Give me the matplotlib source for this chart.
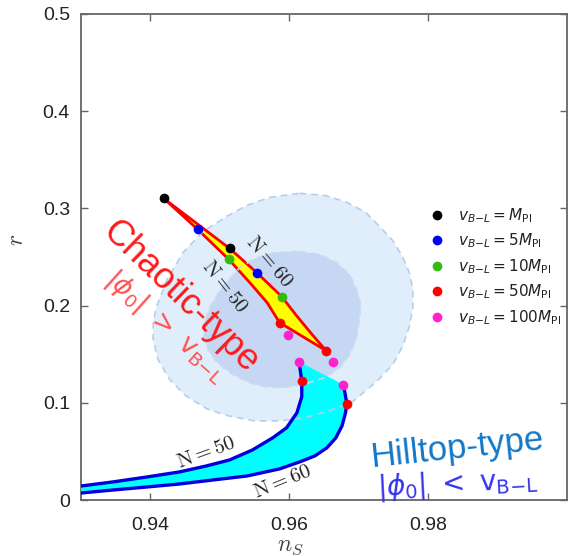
import matplotlib
matplotlib.use("Agg")
import matplotlib.pyplot as plt

# ---------------- data ----------------
# Planck-like contours (95% outer, 68% inner)
outer_ns = [0.9615, 0.9651, 0.9683, 0.9710, 0.9730, 0.9749, 0.9763, 0.9773, 0.9778, 0.9778,
            0.9773, 0.9763, 0.9749, 0.9727, 0.9691, 0.9658, 0.9622, 0.9586, 0.9550, 0.9512,
            0.9481, 0.9451, 0.9428, 0.9411, 0.9404, 0.9404, 0.9409, 0.9424, 0.9447, 0.9476,
            0.9510, 0.9539, 0.9572]
outer_r = [0.3155, 0.3134, 0.3062, 0.2959, 0.2814, 0.2670, 0.2505, 0.2340, 0.2165, 0.1979,
           0.1784, 0.1577, 0.1392, 0.1227, 0.1010, 0.0918, 0.0845, 0.0814, 0.0814, 0.0866,
           0.0938, 0.1072, 0.1237, 0.1443, 0.1649, 0.1835, 0.1990, 0.2268, 0.2546, 0.2763,
           0.2918, 0.3031, 0.3113]
inner_ns = [0.9615, 0.9644, 0.9668, 0.9687, 0.9697, 0.9703, 0.9701, 0.9697, 0.9687, 0.9673,
            0.9651, 0.9619, 0.9591, 0.9565, 0.9543, 0.9519, 0.9496, 0.9483, 0.9477, 0.9478,
            0.9486, 0.9503, 0.9529, 0.9550, 0.9579]
inner_r = [0.2557, 0.2526, 0.2443, 0.2320, 0.2165, 0.2010, 0.1856, 0.1670, 0.1495, 0.1361,
           0.1258, 0.1186, 0.1155, 0.1165, 0.1206, 0.1289, 0.1412, 0.1546, 0.1680, 0.1835,
           0.1990, 0.2186, 0.2392, 0.2485, 0.2546]

# Chaotic-type curves (v = M ... 50M)
chaotic_n50_ns = [0.9419, 0.9468, 0.9513, 0.9543, 0.9568, 0.9586]
chaotic_n50_r = [0.3103, 0.2784, 0.2474, 0.2237, 0.2031, 0.1825]
chaotic_n60_ns = [0.9514, 0.9553, 0.9589, 0.9610, 0.9632, 0.9653]
chaotic_n60_r = [0.2588, 0.2340, 0.2093, 0.1900, 0.1710, 0.1536]

# Hilltop-type curves (from far left up to v = 100M)
hilltop_n50_ns = [0.9300, 0.9346, 0.9395, 0.9442, 0.9481, 0.9514, 0.9547, 0.9576, 0.9596,
                  0.9611, 0.9618, 0.9618, 0.9614]
hilltop_n50_r = [0.0144, 0.0186, 0.0237, 0.0289, 0.0351, 0.0412, 0.0515, 0.0639, 0.0742,
                 0.0897, 0.1062, 0.1227, 0.1423]
hilltop_n60_ns = [0.9300, 0.9346, 0.9395, 0.9442, 0.9490, 0.9539, 0.9586, 0.9615, 0.9637,
                  0.9654, 0.9667, 0.9676, 0.9681, 0.9683, 0.9678]
hilltop_n60_r = [0.0072, 0.0103, 0.0134, 0.0165, 0.0206, 0.0247, 0.0320, 0.0392, 0.0454,
                 0.0536, 0.0639, 0.0763, 0.0897, 0.0990, 0.1186]

# Marked points for each v_{B-L}
pts_labels = [r"$v_{B{-}L} = M_{\rm Pl}$", r"$v_{B{-}L} = 5M_{\rm Pl}$",
              r"$v_{B{-}L} = 10M_{\rm Pl}$", r"$v_{B{-}L} = 50M_{\rm Pl}$",
              r"$v_{B{-}L} = 100M_{\rm Pl}$"]
pts_colors = ["#000000", "#0000ff", "#33bb11", "#ff0000", "#ff22cc"]
pts_ns = [[0.9419, 0.9514],
          [0.9468, 0.9553],
          [0.9513, 0.9589],
          [0.9586, 0.9653, 0.9618, 0.9683],
          [0.9598, 0.9663, 0.9614, 0.9678]]
pts_r = [[0.3103, 0.2588],
         [0.2784, 0.2340],
         [0.2474, 0.2093],
         [0.1825, 0.1536, 0.1227, 0.0990],
         [0.1701, 0.1423, 0.1423, 0.1186]]

xticks = [0.94, 0.96, 0.98]
xticklabels = ["0.94", "0.96", "0.98"]
yticks = [0, 0.1, 0.2, 0.3, 0.4, 0.5]
yticklabels = ["0", "0.1", "0.2", "0.3", "0.4", "0.5"]

# ---------------- figure ----------------
plt.rcParams["font.family"] = ["Liberation Sans", "DejaVu Sans"]
fig = plt.figure(figsize=(5.68, 5.56), dpi=100)
ax = fig.add_axes([0.1426, 0.1007, 0.8556, 0.8743])
ax.set_xlim(0.93, 1.0)
ax.set_ylim(0, 0.5)

# contours
ax.fill(outer_ns, outer_r, facecolor="#dfeefa", edgecolor="none", zorder=1)
ax.fill(inner_ns, inner_r, facecolor="#c5d7f3", edgecolor="none", zorder=1.5)

# chaotic region (yellow)
ch_ns = chaotic_n60_ns + chaotic_n50_ns[::-1]
ch_r = chaotic_n60_r + chaotic_n50_r[::-1]
ax.fill(ch_ns, ch_r, facecolor="#ffff00", edgecolor="#ff0000", lw=2.0,
        joinstyle="round", zorder=3)

# hilltop region (cyan)
hl_ns = hilltop_n50_ns + hilltop_n60_ns[::-1]
hl_r = hilltop_n50_r + hilltop_n60_r[::-1]
ax.fill(hl_ns, hl_r, facecolor="#00ffff", edgecolor="none", zorder=3)

# dashed contour edges on top of fills
ax.fill(outer_ns, outer_r, facecolor="none", edgecolor="#b8cdec", lw=1.2,
        linestyle=(0, (4, 3)), zorder=4)
ax.fill(inner_ns, inner_r, facecolor="none", edgecolor="#c8dbf2", lw=1.2,
        linestyle=(0, (4, 3)), zorder=4)

ax.plot(hilltop_n50_ns, hilltop_n50_r, color="#0000dd", lw=2.4, zorder=5, solid_capstyle="round")
ax.plot(hilltop_n60_ns, hilltop_n60_r, color="#0000dd", lw=2.4, zorder=5, solid_capstyle="round")

handles = []
for lab, col, xs, ys in zip(pts_labels, pts_colors, pts_ns, pts_r):
    h, = ax.plot(xs, ys, "o", color=col, ms=7, mec="none", zorder=6, label=lab, clip_on=False)
    handles.append(h)

leg = ax.legend(handles=handles, loc="upper left", bbox_to_anchor=(0.72, 0.605),
                frameon=False, fontsize=11, handlelength=0.8, handletextpad=1.0,
                labelspacing=0.45, borderpad=0, borderaxespad=0)
for t in leg.get_texts():
    t.set_math_fontfamily("dejavusans")
    t.set_color("#222222")

# axis styling
for s in ax.spines.values():
    s.set_color("#666666")
    s.set_linewidth(1.3)
ax.set_xticks(xticks)
ax.set_xticklabels(xticklabels)
ax.set_yticks(yticks)
ax.set_yticklabels(yticklabels)
ax.tick_params(direction="in", length=5, width=1, color="#666666", labelsize=14,
               top=True, right=True, pad=12, labelcolor="#222222")
ax.tick_params(axis="y", pad=8)

ax.set_xlabel(r"$n_S$", fontsize=17, math_fontfamily="cm", color="#444444")
ax.xaxis.set_label_coords(0.43, -0.072)
ax.set_ylabel(r"$r$", fontsize=17, math_fontfamily="cm", color="#444444")
ax.yaxis.set_label_coords(-0.110, 0.535)

# N labels
nkw = dict(fontsize=15, math_fontfamily="cm", color="#222222", ha="center", va="center",
           rotation_mode="anchor", zorder=7)
ax.text(0.9572, 0.2454, r"$\mathrm{N} = 60$", rotation=-50, **nkw)
ax.text(0.9507, 0.2196, r"$\mathrm{N} = 50$", rotation=-52, **nkw)
ax.text(0.9481, 0.0485, r"$\mathrm{N} = 50$", rotation=20, **nkw)
ax.text(0.9591, 0.0186, r"$\mathrm{N} = 60$", rotation=22, **nkw)

# annotations
ax.text(0.9443, 0.2093, "Chaotic-type", color="#ff1a1a", fontsize=26, rotation=-44,
        ha="center", va="center", rotation_mode="anchor", zorder=8)
ax.text(0.9422, 0.1780, r"$|\phi_0|\ >\ \mathsf{v}_{\mathsf{B{-}L}}$", color="#ff5050",
        fontsize=19, rotation=-42, ha="center", va="center", rotation_mode="anchor",
        math_fontfamily="dejavusans", zorder=8)
ax.text(0.9841, 0.0535, "Hilltop-type", color="#1478c8", fontsize=25, rotation=6,
        ha="center", va="center", rotation_mode="anchor", zorder=8)
ax.text(0.9842, 0.0165, r"$|\phi_0|\ <\ \mathsf{v}_{\mathsf{B{-}L}}$", color="#3333ee",
        fontsize=20, rotation=3, ha="center", va="center", rotation_mode="anchor",
        math_fontfamily="dejavusans", zorder=8, clip_on=False)

fig.savefig("out.png", dpi=100)
